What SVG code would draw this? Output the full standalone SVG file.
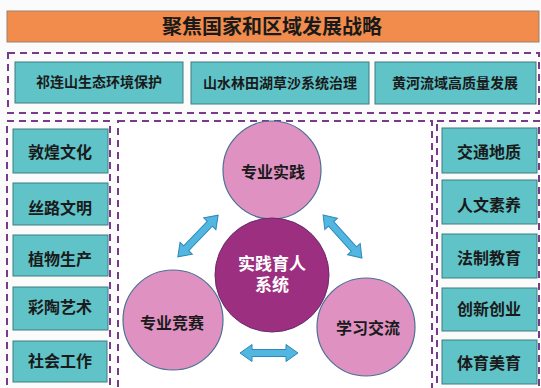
<svg xmlns="http://www.w3.org/2000/svg" width="541" height="388" viewBox="0 0 541 388">
<style>
.t{font-family:"Liberation Sans","Noto Sans CJK SC",sans-serif;font-weight:bold;fill:#1a1a1a;text-anchor:middle;dominant-baseline:central}
.box{fill:#5fc3c8;stroke:#3f7c80;stroke-width:1}
.dash{fill:none;stroke:#7a3a8c;stroke-width:2;stroke-dasharray:7 5}
.circ{fill:#df92c2;stroke:#4b6f95;stroke-width:1.2}
.arr{fill:#52b7e0;stroke:#2f88b8;stroke-width:1}
</style>
<defs>
<polygon id="dbl" class="arr" points="-29,0 -17,-8.5 -17,-3.5 17,-3.5 17,-8.5 29,0 17,8.5 17,3.5 -17,3.5 -17,8.5"/>
</defs>
<rect width="541" height="388" fill="#fbfbfb"/>
<g id="title">
<rect x="7" y="11" width="532" height="31" fill="#f28c4c" stroke="#9a8070" stroke-width="1"/>
<text class="t" x="272" y="27" font-size="20">聚焦国家和区域发展战略</text>
</g>
<g id="frames">
<rect class="dash" x="8" y="53" width="531" height="60"/>
<rect class="dash" x="7" y="121" width="103" height="275"/>
<rect x="118" y="121" width="314" height="275" fill="#ffffff"/>
<rect class="dash" x="118" y="121" width="314" height="275"/>
<rect class="dash" x="437" y="121" width="102" height="275"/>
</g>
<g id="top1"><rect class="box" x="15" y="62" width="168" height="41"/><text class="t" x="99" y="82" font-size="14" font-weight="normal">祁连山生态环境保护</text></g>
<g id="top2"><rect class="box" x="191" y="62" width="178" height="42"/><text class="t" x="280" y="83" font-size="14" font-weight="normal">山水林田湖草沙系统治理</text></g>
<g id="top3"><rect class="box" x="375" y="62" width="161" height="42"/><text class="t" x="455" y="83" font-size="14" font-weight="normal">黄河流域高质量发展</text></g>
<g id="l1"><rect class="box" x="13" y="129" width="95" height="44"/><text class="t" x="60" y="152" font-size="16">敦煌文化</text></g>
<g id="l2"><rect class="box" x="13" y="183" width="95" height="42"/><text class="t" x="60" y="208" font-size="16">丝路文明</text></g>
<g id="l3"><rect class="box" x="13" y="235" width="95" height="41"/><text class="t" x="60" y="259" font-size="16">植物生产</text></g>
<g id="l4"><rect class="box" x="13" y="287" width="95" height="43"/><text class="t" x="60" y="307" font-size="16">彩陶艺术</text></g>
<g id="l5"><rect class="box" x="13" y="341" width="94" height="41"/><text class="t" x="60" y="361" font-size="16">社会工作</text></g>
<g id="r1"><rect class="box" x="442" y="128" width="95" height="45"/><text class="t" x="489" y="152" font-size="16">交通地质</text></g>
<g id="r2"><rect class="box" x="442" y="180" width="95" height="44"/><text class="t" x="489" y="205" font-size="16">人文素养</text></g>
<g id="r3"><rect class="box" x="442" y="234" width="95" height="44"/><text class="t" x="489" y="258" font-size="16">法制教育</text></g>
<g id="r4"><rect class="box" x="442" y="288" width="95" height="43"/><text class="t" x="489" y="309" font-size="16">创新创业</text></g>
<g id="r5"><rect class="box" x="442" y="340" width="95" height="44"/><text class="t" x="489" y="363" font-size="16">体育美育</text></g>
<g id="connectors">
<use href="#dbl" transform="translate(198,236) rotate(-46)"/>
<use href="#dbl" transform="translate(342.5,236.5) rotate(48)"/>
<use href="#dbl" transform="translate(269,353)"/>
</g>
<g id="c-top"><circle class="circ" cx="272" cy="170" r="49"/><text class="t" x="273" y="172" font-size="16">专业实践</text></g>
<g id="c-center"><circle cx="272" cy="275" r="57" fill="#9c2f80" stroke="#6a2a6a" stroke-width="1"/><text class="t" x="272" y="264" font-size="17" style="fill:#fff">实践育人</text><text class="t" x="272" y="285" font-size="17" style="fill:#fff">系统</text></g>
<g id="c-left"><circle class="circ" cx="173" cy="320" r="50"/><text class="t" x="172" y="323" font-size="16">专业竞赛</text></g>
<g id="c-right"><circle class="circ" cx="366" cy="327" r="49"/><text class="t" x="368" y="328" font-size="16">学习交流</text></g>
</svg>
